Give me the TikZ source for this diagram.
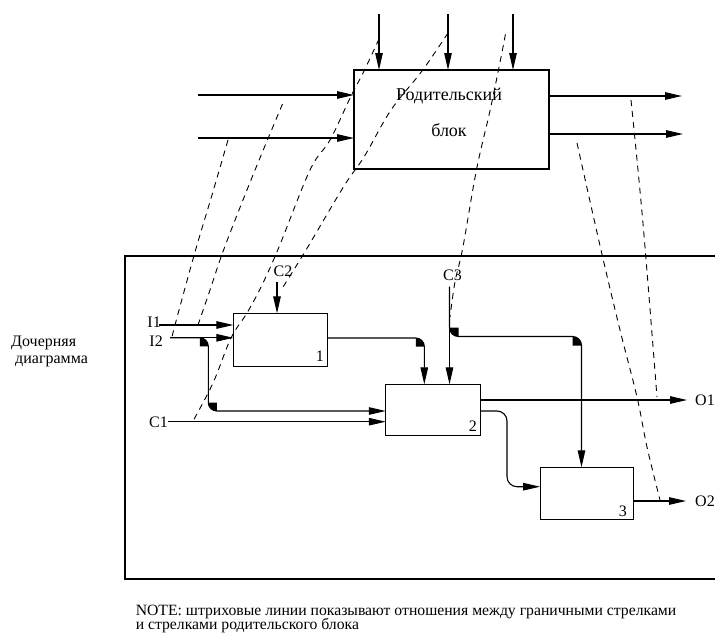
\documentclass[tikz,border=0pt]{standalone}
\usepackage{fontspec}
\setmainfont{Liberation Serif}
\usetikzlibrary{arrows.meta,calc}
\begin{document}
\begin{tikzpicture}[x=1pt,y=-1pt,
  ln/.style={line width=1.1pt},
  box/.style={draw,line width=1.1pt,inner sep=0pt,outer sep=0pt},
  arr/.style={line width=1.1pt,-{Triangle[length=17pt,width=7.5pt]}},
  dsh/.style={line width=0.9pt,dash pattern=on 6pt off 5pt},
  lbl/.style={font=\fontsize{16}{18}\selectfont,inner sep=0pt},
  ptxt/.style={font=\fontsize{18}{20}\selectfont,inner sep=0pt},
  note/.style={font=\fontsize{15.7}{17}\selectfont,inner sep=0pt}]
\useasboundingbox (0,0) rectangle (715,637);
\clip (0,0) rectangle (715,637);

% child frame
\draw[ln] (720,256) -- (125,256) -- (125,579) -- (720,579);

% parent block
\node[box, minimum width=195pt, minimum height=99pt] (P) at (451.5,119.5) {};
\node[ptxt, anchor=base] (pt1) at (449,100) {Родительский};
\node[ptxt, anchor=base] (pt2) at (449,136.7) {блок};
\coordinate (pc1) at (379,14);
\coordinate (pc2) at (448,14);
\coordinate (pc3) at (513,14);
\draw[arr] (pc1) -- (pc1 |- P.north);
\draw[arr] (pc2) -- (pc2 |- P.north);
\draw[arr] (pc3) -- (pc3 |- P.north);
\coordinate (pi1) at (198,95);
\coordinate (pi2) at (198,138);
\draw[arr] (pi1) -- (pi1 -| P.west);
\draw[arr] (pi2) -- (pi2 -| P.west);
\coordinate (po1) at (682,96);
\coordinate (po2) at (683,134);
\draw[arr] (po1 -| P.east) -- (po1);
\draw[arr] (po2 -| P.east) -- (po2);

% child boxes
\node[box, minimum width=93.7pt, minimum height=52.7pt] (b1) at (280.2,339.7) {};
\node[box, minimum width=94.3pt, minimum height=50.7pt] (b2) at (432.9,409.7) {};
\node[box, minimum width=93.7pt, minimum height=52pt] (b3) at (586.9,493.3) {};
\node[lbl, anchor=base east] (n1) at (324,361) {1};
\node[lbl, anchor=base east] (n2) at (477,431.7) {2};
\node[lbl, anchor=base east] (n3) at (627,516) {3};

% boundary arrows
\node[lbl, anchor=base east] (I1) at (161,327) {I1};
\node[lbl, anchor=base east] (I2) at (163,346.5) {I2};
\node[lbl, anchor=base] (C2) at (283,276.7) {C2};
\node[lbl, anchor=base east] (C1) at (168,427.5) {C1};
\node[lbl, anchor=base] (C3) at (452.5,280.7) {C3};
\node[lbl, anchor=base west] (O1) at (695,405) {O1};
\node[lbl, anchor=base west] (O2) at (695,506) {O2};
\coordinate (i1s) at (159,325);
\coordinate (i2s) at (170,337.8);
\coordinate (c2s) at (277,282);
\coordinate (c1s) at (168,421.7);
\coordinate (c3s) at (449.5,286.7);
\coordinate (o1e) at (687,400);
\coordinate (o2e) at (686,501);
\draw[arr] (i1s) -- (i1s -| b1.west);
\draw[arr] (i2s) -- (i2s -| b1.west);
\draw[arr] (c2s) -- (c2s |- b1.north);
\draw[arr] (c1s) -- (c1s -| b2.west);
\draw[arr] (c3s) -- (c3s |- b2.north);
\draw[arr] (o1e -| b2.east) -- (o1e);
\draw[arr] (o2e -| b3.east) -- (o2e);

% internal arrows
\coordinate (k1) at (208.3,337.8);
\coordinate (k2) at (208.3,411);
\coordinate (k3) at (424.3,338);
\coordinate (k4) at (449.5,336.5);
\coordinate (k5) at (581.5,336.5);
\coordinate (k6) at (507,411);
\coordinate (k7) at (507,486.7);
\draw[arr, rounded corners=8.5pt] (i2s) -- (k1) -- (k2) -- (k2 -| b2.west);
\draw[arr, rounded corners=8.5pt] (k3 -| b1.east) -- (k3) -- (k3 |- b2.north);
\draw[arr, rounded corners=9pt] (c3s) -- (k4) -- (k5) -- (k5 |- b3.north);
\draw[arr, rounded corners=10pt] (k6 -| b2.east) -- (k6) -- (k7) -- (k7 -| b3.west);

% filled bend marks
\fill (199.8,346.3) -- (199.8,337.8) .. controls (204.5,337.8) and (208.3,341.6) .. (208.3,346.3) -- cycle;
\fill (216.8,402.5) -- (208.3,402.5) .. controls (208.3,407.2) and (212.1,411) .. (216.8,411) -- cycle;
\fill (415.8,346.5) -- (415.8,338) .. controls (420.5,338) and (424.3,341.8) .. (424.3,346.5) -- cycle;
\fill (458.5,327.5) -- (449.5,327.5) .. controls (449.5,332.5) and (453.5,336.5) .. (458.5,336.5) -- cycle;
\fill (572.5,345.5) -- (572.5,336.5) .. controls (577.5,336.5) and (581.5,340.5) .. (581.5,345.5) -- cycle;

% dashed correspondence lines
\draw[dsh] plot[smooth, tension=0.6] coordinates {(228,140) (212,195) (195,252) (175,325) (172,338)};
\draw[dsh] plot[smooth, tension=0.6] coordinates {(282.5,104) (253,175) (224.7,247) (210,290) (198,325)};
\draw[dsh] plot[smooth, tension=0.6] coordinates {(379,39) (364,71) (350.6,97) (330,140) (310,170) (279,247) (262,285) (247,313) (231,338) (213,383) (193,421)};
\draw[dsh] plot[smooth, tension=0.6] coordinates {(448,33) (422,71) (391,110) (364,157) (344,186) (306,250) (283,287)};
\draw[dsh] plot[smooth, tension=0.6] coordinates {(505.4,34.4) (500.3,60.8) (490.1,110.3) (476.5,169.7) (462.9,247.2) (455,282) (450,317)};
\draw[dsh] plot[smooth, tension=0.6] coordinates {(577,143) (601,250) (620,330) (637,397) (647,447) (660,500)};
\draw[dsh] plot[smooth, tension=0.6] coordinates {(631,100) (638,170) (645,247) (657,397)};

% side and note texts
\node[lbl, anchor=base west] (ch1) at (11,346.7) {Дочерняя};
\node[lbl, anchor=base west] (ch2) at (15,363) {диаграмма};
\node[note, anchor=base west] (nt1) at (135.6,615) {NOTE: штриховые линии показывают отношения между граничными стрелками};
\node[note, anchor=base west] (nt2) at (135.6,629.5) {и стрелками родительского блока};
\end{tikzpicture}
\end{document}
